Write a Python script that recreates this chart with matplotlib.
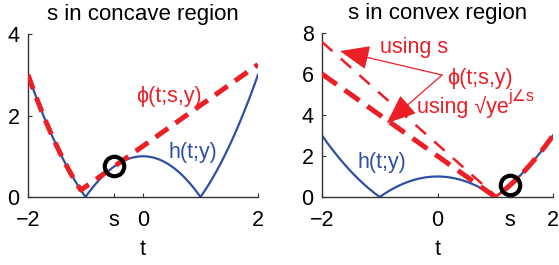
import numpy as np
import matplotlib
matplotlib.use("Agg")
import matplotlib.pyplot as plt

plt.rcParams['font.family'] = ['Liberation Sans', 'DejaVu Sans']
plt.rcParams['lines.scale_dashes'] = False
plt.rcParams['axes.unicode_minus'] = True

# ---- data / parameters ----
y_obs = 1.0                 # h(t;y) = |t^2 - y|
s_concave = -0.5            # s in the left panel
s_convex = 1.25             # s in the right panel
t_range = [-2, 2]
left_yticks = [0, 2, 4]
right_yticks = [0, 2, 4, 6, 8]
left_xticks = [-2, s_concave, 0, 2]
left_xticklabels = ['\u22122', 's', '0', '2']
right_xticks = [-2, 0, s_convex, 2]
right_xticklabels = ['\u22122', '0', 's', '2']

BLUE = '#2F4FA6'
RED = '#EC1F27'
FS = 15.5
FT = 15.5

t = np.linspace(t_range[0], t_range[1], 801)
h = np.abs(t**2 - y_obs)

# concave-region majorizer: tangent of y - t^2 at s, max with t^2 - y
phi_concave = np.maximum(t**2 - y_obs, (y_obs - s_concave**2) - 2*s_concave*(t - s_concave))
# convex-region majorizers
def phi_convex(z):
    return np.maximum(t**2 - y_obs, y_obs + z**2 - 2*z*t)
z_s = s_convex
z_proj = np.sqrt(y_obs) * np.sign(s_convex)

fig = plt.figure(figsize=(5.59, 2.65), dpi=100)
axL = fig.add_axes([28/559, 1-197/265, 230/559, 163/265])
axR = fig.add_axes([322/559, 1-197/265, 231/559, 164/265])

for ax in (axL, axR):
    ax.spines['top'].set_visible(False)
    ax.spines['right'].set_visible(False)
    for sp in ('left', 'bottom'):
        ax.spines[sp].set_linewidth(1.0)
        ax.spines[sp].set_color('#333333')
    ax.tick_params(direction='in', length=3, width=0.8, labelsize=FS, color='#333333')
    ax.tick_params(axis='x', pad=9)
    ax.tick_params(axis='y', pad=6)
    ax.set_xlim(t_range)
    ax.set_xlabel('t', fontsize=FS, labelpad=6)

# ---- left panel ----
axL.plot(t, h, color=BLUE, lw=1.6, zorder=2)
lL, = axL.plot(t, phi_concave, color=RED, lw=3.6, zorder=3)
lL.set_dashes((11, 6.5))
axL.plot([s_concave], [np.abs(s_concave**2 - y_obs)], 'o', ms=14, mfc='none', mec='black', mew=3, zorder=4)
axL.set_ylim(0, 4)
axL.set_yticks(left_yticks)
axL.set_xticks(left_xticks)
axL.set_xticklabels(left_xticklabels)
axL.set_title('s in concave region', fontsize=16, pad=10)
axL.text(-0.12, 2.47, '\u03d5(t;s,y)', color=RED, fontsize=FT, va='center', ha='left')
axL.text(0.45, 1.10, 'h(t;y)', color=BLUE, fontsize=FT, va='center', ha='left')

# ---- right panel ----
axR.plot(t, h, color=BLUE, lw=1.6, zorder=2)
l1, = axR.plot(t, phi_convex(z_s), color=RED, lw=1.8, zorder=3)
l1.set_dashes((10, 8))
l2, = axR.plot(t, phi_convex(z_proj), color=RED, lw=3.6, zorder=3)
l2.set_dashes((13, 7))
axR.plot([s_convex], [np.abs(s_convex**2 - y_obs)], 'o', ms=14, mfc='none', mec='black', mew=3, zorder=4)
axR.set_ylim(0, 8)
axR.set_yticks(right_yticks)
axR.set_xticks(right_xticks)
axR.set_xticklabels(right_xticklabels)
axR.set_title('s in convex region', fontsize=16, pad=10)

axR.text(-1.0, 7.27, 'using s', color=RED, fontsize=FT, va='center', ha='left')
axR.text(0.17, 5.8, '\u03d5(t;s,y)', color=RED, fontsize=FT, va='center', ha='left')
tm = axR.text(-0.36, 4.39, 'using \u221aye', color=RED, fontsize=FT, va='center', ha='left')
axR.annotate('j\u2220s', xy=(1.0, 0.62), xycoords=tm, color=RED, fontsize=11.5,
             va='bottom', ha='left')
axR.text(-1.38, 1.66, 'h(t;y)', color=BLUE, fontsize=FT, va='center', ha='left')

arrow = dict(arrowstyle='-|>,head_length=1.1,head_width=0.45', color=RED, lw=0.9,
             mutation_scale=17, shrinkA=0, shrinkB=0)
axR.annotate('', xy=(-1.69, 7.12), xytext=(0.08, 5.95), arrowprops=arrow)
axR.annotate('', xy=(-0.88, 3.6), xytext=(0.08, 5.95), arrowprops=arrow)

fig.savefig('out.png', dpi=100)
